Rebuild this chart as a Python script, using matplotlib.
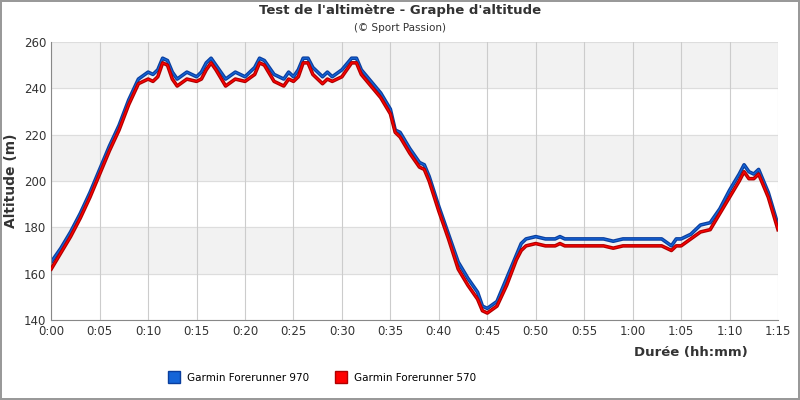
import matplotlib.pyplot as plt
from matplotlib.lines import Line2D

# minutes
temps = [0, 1, 2, 3, 4, 5, 6, 7, 8, 9, 10, 10.5, 11, 11.5, 12, 12.5, 13, 14, 15, 15.5, 16, 16.5,
         17, 18, 19, 20, 21, 21.5, 22, 23, 24, 24.5, 25, 25.5, 26, 26.5, 27, 28, 28.5, 29, 30,
         31, 31.5, 32, 33, 34, 35, 35.5, 36, 37, 38, 38.5, 39, 40, 41, 42, 43, 44, 44.5, 45, 46,
         47, 48, 48.5, 49, 50, 51, 52, 52.5, 53, 55, 57, 58, 59, 60, 62, 63, 64, 64.5, 65, 66,
         67, 68, 69, 70, 71, 71.5, 72, 72.5, 73, 74, 75]
alt_970 = [165, 171, 178, 186, 195, 205, 215, 224, 235, 244, 247, 246, 248, 253, 252, 247,
           244, 247, 245, 247, 251, 253, 250, 244, 247, 245, 249, 253, 252, 246, 244, 247,
           245, 248, 253, 253, 249, 245, 247, 245, 248, 253, 253, 248, 243, 238, 231, 222,
           221, 214, 208, 207, 202, 189, 177, 165, 158, 152, 146, 145, 148, 158, 168, 173,
           175, 176, 175, 175, 176, 175, 175, 175, 174, 175, 175, 175, 175, 172, 175, 175,
           177, 181, 182, 188, 196, 203, 207, 204, 203, 205, 195, 181]
alt_570 = [162, 169, 176, 184, 193, 203, 213, 222, 233, 242, 244, 243, 245, 251, 250, 244,
           241, 244, 243, 244, 248, 251, 248, 241, 244, 243, 246, 251, 250, 243, 241, 244,
           243, 245, 251, 251, 246, 242, 244, 243, 245, 251, 251, 246, 241, 236, 229, 221,
           219, 212, 206, 205, 200, 187, 175, 162, 155, 149, 144, 143, 146, 155, 166, 170,
           172, 173, 172, 172, 173, 172, 172, 172, 171, 172, 172, 172, 172, 170, 172, 172,
           175, 178, 179, 186, 193, 200, 204, 201, 201, 203, 193, 179]
xticks = list(range(0, 76, 5))
xlabels = ['0:00', '0:05', '0:10', '0:15', '0:20', '0:25', '0:30', '0:35', '0:40', '0:45',
           '0:50', '0:55', '1:00', '1:05', '1:10', '1:15']

fig = plt.figure(figsize=(8, 4), dpi=100)
fig.patch.set_edgecolor('#999999')
fig.patch.set_linewidth(1.5)
ax = fig.add_axes([0.064, 0.2, 0.9085, 0.695])

for lo in (160, 200, 240):
    ax.axhspan(lo, lo + 20, color='#f2f2f2', zorder=0)
for y in range(140, 261, 20):
    ax.axhline(y, color='#dddddd', lw=0.8, zorder=0.5)
for x in xticks:
    ax.axvline(x, color='#cccccc', lw=0.8, zorder=0.5)

ax.plot(temps, alt_970, color='#0a3e9e', lw=2.6, zorder=2)
ax.plot(temps, alt_970, color='#1565d8', lw=0.9, zorder=2)
ax.plot(temps, alt_570, color='#b00000', lw=2.6, zorder=3)
ax.plot(temps, alt_570, color='#ff0000', lw=0.9, zorder=3)

ax.set_xlim(0, 75)
ax.set_ylim(140, 260)
ax.set_xticks(xticks)
ax.set_xticklabels(xlabels)
ax.set_yticks(range(140, 261, 20))
ax.tick_params(labelsize=8.5, length=0, colors='#333333')
for s in ax.spines.values():
    s.set_visible(False)
ax.spines['bottom'].set_visible(True)
ax.spines['bottom'].set_color('#888888')
ax.spines['left'].set_visible(True)
ax.spines['left'].set_color('#888888')

ax.set_ylabel('Altitude (m)', fontsize=10, fontweight='bold', color='#333333')
fig.text(0.935, 0.11, 'Durée (hh:mm)', ha='right', fontsize=9.5, fontweight='bold', color='#333333')
fig.text(0.5, 0.965, "Test de l'altimètre - Graphe d'altitude", ha='center', fontsize=9.5,
         fontweight='bold', color='#333333')
fig.text(0.5, 0.922, '(© Sport Passion)', ha='center', fontsize=7.5, color='#333333')

handles = [Line2D([], [], ls='', marker='s', ms=8, mfc='#1565d8', mec='#0a3e9e'),
           Line2D([], [], ls='', marker='s', ms=8, mfc='#ff0000', mec='#b00000')]
fig.legend(handles, ['Garmin Forerunner 970', 'Garmin Forerunner 570'], loc='center',
           bbox_to_anchor=(0.4, 0.055), ncol=2, frameon=False, fontsize=7.5,
           handletextpad=0.3, columnspacing=2)

fig.savefig('out.png')
